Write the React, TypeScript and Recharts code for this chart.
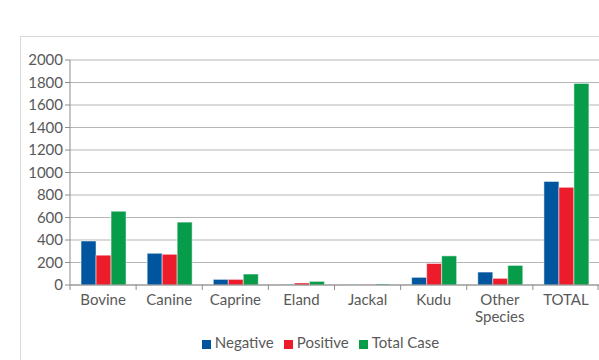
import { BarChart, Bar, XAxis, YAxis, CartesianGrid, Legend } from 'recharts'

// species on the x axis
const categories = ['Bovine', 'Canine', 'Caprine', 'Eland', 'Jackal', 'Kudu', 'Other Species', 'TOTAL']
const negative = [391, 282, 50, 5, 3, 68, 115, 921]
const positive = [265, 273, 50, 18, 5, 191, 59, 868]
const totalCase = [656, 559, 97, 32, 9, 259, 174, 1792]
const yTicks = [0, 200, 400, 600, 800, 1000, 1200, 1400, 1600, 1800, 2000]

const data = categories.map((name, i) => ({
  name,
  Negative: negative[i],
  Positive: positive[i],
  'Total Case': totalCase[i],
}))

const FONT = 'Lato, "Open Sans", sans-serif'
const TEXT = '#595959'
const AXIS = '#8c8c8c'

// category label + tick marks on the band edges (Excel style)
function CategoryTick(props: any) {
  const { x, y, payload, index } = props
  const half = payload?.offset ?? 33
  const words = String(payload.value).split(' ')
  const last = index === categories.length - 1
  return (
    <g>
      <line x1={x - half} x2={x - half} y1={y - 8} y2={y - 3} stroke={AXIS} />
      {last && <line x1={x + half - 1} x2={x + half - 1} y1={y - 8} y2={y - 3} stroke={AXIS} />}
      <text x={x} y={y + 12} textAnchor="middle" fill={TEXT} fontSize={15} fontFamily={FONT}>
        {words.map((w, k) => (
          <tspan key={k} x={x} dy={k === 0 ? 0 : 17}>{w}</tspan>
        ))}
      </text>
    </g>
  )
}

export default function App() {
  return (
    <div style={{ position: 'absolute', left: 0, top: 0, width: 599, height: 360, background: '#fff', overflow: 'hidden' }}>
      <div style={{ position: 'absolute', left: 20, top: 36, width: 620, height: 400, border: '1px solid #d9d9d9' }} />
      <BarChart
        width={599}
        height={360}
        data={data}
        margin={{ top: 60, right: 0, bottom: 8, left: 20 }}
        barCategoryGap="16.7%"
        barGap={0}
        style={{ position: 'absolute', left: 0, top: 0 }}
      >
        <CartesianGrid vertical={false} stroke="#b5b5b5" />
        <XAxis
          dataKey="name"
          interval={0}
          tickLine={false}
          axisLine={{ stroke: AXIS }}
          tick={<CategoryTick />}
          height={49}
        />
        <YAxis
          width={50}
          domain={[0, 2000]}
          ticks={yTicks}
          interval={0}
          tickSize={5}
          tickMargin={2}
          axisLine={{ stroke: AXIS }}
          tickLine={{ stroke: AXIS }}
          tick={{ fill: TEXT, fontSize: 15, fontFamily: FONT }}
        />
        <Legend
          verticalAlign="bottom"
          iconType="square"
          iconSize={9}
          wrapperStyle={{ fontFamily: FONT, fontSize: 15, color: TEXT, transform: 'translate(16px, -1px)' }}
          formatter={(v) => <span style={{ color: TEXT }}>{v}</span>}
        />
        <Bar dataKey="Negative" fill="#00569e" stroke="#ffffff" strokeWidth={0.5} isAnimationActive={false} />
        <Bar dataKey="Positive" fill="#ed1c2b" stroke="#ffffff" strokeWidth={0.5} isAnimationActive={false} />
        <Bar dataKey="Total Case" fill="#069c4a" stroke="#ffffff" strokeWidth={0.5} isAnimationActive={false} />
      </BarChart>
    </div>
  )
}
